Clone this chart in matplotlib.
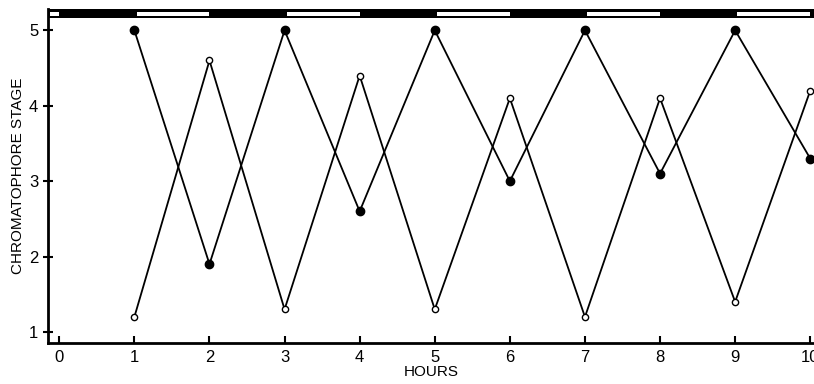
import matplotlib.pyplot as plt
from matplotlib.patches import Rectangle

# ── data ──────────────────────────────────────────────────────────────────────
hours = [1, 2, 3, 4, 5, 6, 7, 8, 9, 10]
stage_filled = [5.0, 1.9, 5.0, 2.6, 5.0, 3.0, 5.0, 3.1, 5.0, 3.3]
stage_open = [1.2, 4.6, 1.3, 4.4, 1.3, 4.1, 1.2, 4.1, 1.4, 4.2]
light_periods = [(-0.13, 0.0), (1.03, 2.0), (3.03, 4.0), (5.03, 6.0),
                 (7.03, 8.0), (9.03, 10.0)]

plt.rcParams["font.family"] = ["Liberation Sans", "DejaVu Sans"]

fig = plt.figure(figsize=(8.14, 3.84), dpi=100)
ax = fig.add_axes([0.059, 0.106, 0.941, 0.87])

XMIN, XMAX = -0.15, 10.05
YMIN, YMAX = 0.85, 5.28
ax.set_xlim(XMIN, XMAX)
ax.set_ylim(YMIN, YMAX)

ax.plot(hours, stage_filled, color="black", lw=1.3, marker="o", ms=6,
        mfc="black", mec="black", zorder=3)
ax.plot(hours, stage_open, color="black", lw=1.3, marker="o", ms=4.5,
        mfc="white", mec="black", mew=1.0, zorder=3)

# light/dark bar along the top
ax.add_patch(Rectangle((XMIN, 5.16), XMAX - XMIN + 0.1, YMAX - 5.16,
                       facecolor="black", edgecolor="none", clip_on=False, zorder=4))
for x0, x1 in light_periods:
    ax.add_patch(Rectangle((x0, 5.19), x1 - x0, 0.055, facecolor="white",
                           edgecolor="none", clip_on=False, zorder=5))

for s in ("top", "right"):
    ax.spines[s].set_visible(False)
for s in ("left", "bottom"):
    ax.spines[s].set_linewidth(2)

ax.set_xticks(range(0, 11))
ax.set_yticks([1, 2, 3, 4, 5])
ax.tick_params(axis="both", direction="in", length=5, width=1.5, labelsize=12)
ax.tick_params(axis="x", pad=5)
ax.tick_params(axis="y", direction="inout", length=7)
ax.set_xlabel("HOURS", fontsize=11, labelpad=0)
ax.set_ylabel("CHROMATOPHORE STAGE", fontsize=11, labelpad=3)

fig.savefig("out.png", dpi=100)
